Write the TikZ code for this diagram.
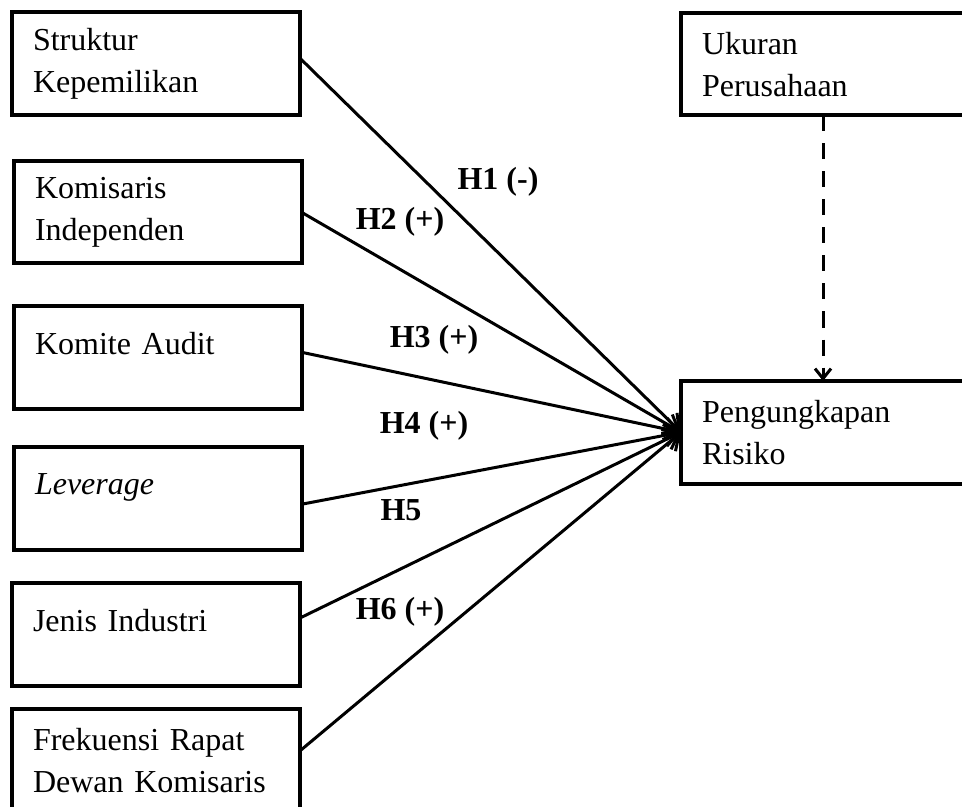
\documentclass[tikz,border=0pt]{standalone}
\usepackage{fontspec}
\setmainfont{Liberation Serif}
\usetikzlibrary{calc,arrows.meta}

\begin{document}
\begin{tikzpicture}[x=0.5pt,y=-0.5pt,
  varbox/.style={draw,line width=2pt,anchor=north west,outer sep=0pt,align=left,
    text width=122.75pt,inner xsep=10.5pt,minimum height=51.25pt,
    font=\fontsize{16}{21}\selectfont},
  wide/.style={text width=160pt},
  hyp/.style={font=\fontsize{16}{19}\selectfont\bfseries},
  path/.style={line width=1.5pt,-{Straight Barb[length=7pt,width=11pt,line width=1.5pt]}},
  dasharrow/.style={line width=1.5pt,dash pattern=on 8pt off 6pt,
    -{Straight Barb[length=5pt,width=8pt,line width=1.5pt]}}]

\useasboundingbox (0,0) rectangle (962,807);

% ---- independent variables ----
\node[varbox] (own)  at (12,12.5) {Struktur\\Kepemilikan};
\node[varbox] (indep) at (14,161) {Komisaris\\Independen};
\node[varbox] (audit) at (14,306) {Komite Audit\\[-7pt]\mbox{}};
\node[varbox] (lev)  at (14,447) {\itshape Leverage\\[-7pt]\mbox{}};
\node[varbox] (ind)  at (12,583) {Jenis Industri\\[-7pt]\mbox{}};
\node[varbox] (meet) at (12,709) {Frekuensi Rapat\\Dewan Komisaris};

% ---- control and dependent ----
\node[varbox,wide] (size) at (681,13) {Ukuran\\Perusahaan};
\node[varbox,wide] (disc) at (681,381) {Pengungkapan\\Risiko};

% ---- hypotheses ----
\draw[path] ([yshift=3pt]own.east) -- (disc.west);
\draw[path] (indep.east) -- (disc.west);
\draw[path] ([yshift=2.5pt]audit.east) -- (disc.west);
\draw[path] ([yshift=-3pt]lev.east) -- (disc.west);
\draw[path] ([yshift=8pt]ind.east) -- (disc.west);
\draw[path] ([yshift=4.5pt]meet.east) -- (disc.west);

\draw[dasharrow] ([xshift=71pt]size.south west) -- ([xshift=71pt]disc.north west);

\node[hyp] (h1) at (498,182) {H1 (-)};
\node[hyp] (h2) at (400,222) {H2 (+)};
\node[hyp] (h3) at (434,340) {H3 (+)};
\node[hyp] (h4) at (424,426) {H4 (+)};
\node[hyp] (h5) at (401,510) {H5};
\node[hyp] (h6) at (400,612) {H6 (+)};
\end{tikzpicture}
\end{document}
